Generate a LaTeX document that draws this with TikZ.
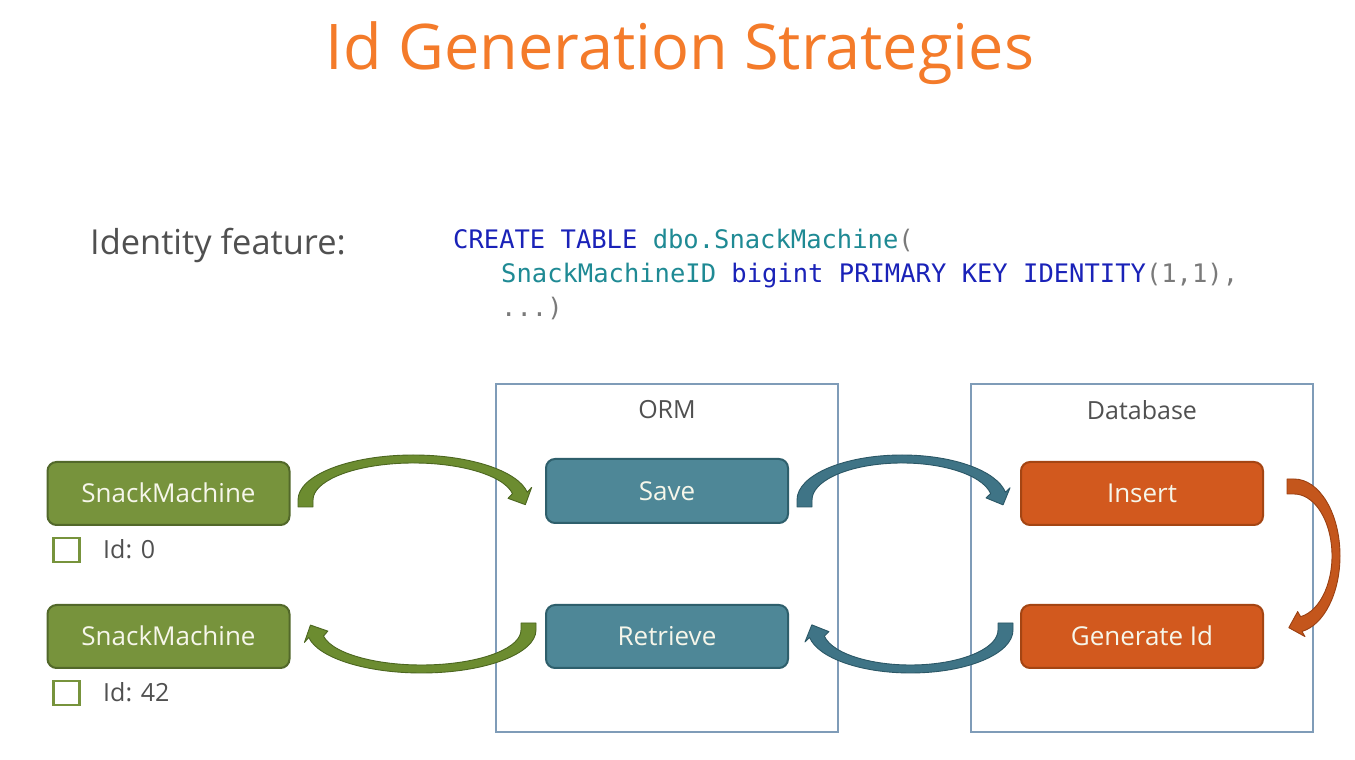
\documentclass[tikz,border=0pt]{standalone}
\usepackage{fontspec}
\setmainfont{Open Sans}
\newfontfamily\codefont{DejaVu Sans Mono}
\definecolor{titleor}{HTML}{F47B2A}
\definecolor{labelgray}{HTML}{505050}
\definecolor{frameblue}{HTML}{7F9CB8}
\definecolor{gfill}{HTML}{77933C}
\definecolor{gline}{HTML}{52682A}
\definecolor{tfill}{HTML}{4E8797}
\definecolor{tline}{HTML}{2E5F6C}
\definecolor{ofill}{HTML}{D2591E}
\definecolor{oline}{HTML}{A44513}
\definecolor{garrow}{HTML}{6C8C30}
\definecolor{garrowl}{HTML}{4C6620}
\definecolor{tarrow}{HTML}{3F7486}
\definecolor{tarrowl}{HTML}{2B5766}
\definecolor{oarrow}{HTML}{C4561C}
\definecolor{oarrowl}{HTML}{9A4012}
\definecolor{boxtext}{HTML}{F6F6EA}
\definecolor{sqlblue}{HTML}{1A22B8}
\definecolor{sqlteal}{HTML}{1F8A94}
\definecolor{sqlgray}{HTML}{7A7A7A}
\newcommand\carrow[7]{%
\begin{scope}[shift={(#1,#2)},rotate=#5]
\pgfmathsetmacro\ao{#3+7.5}
\pgfmathsetmacro\ai{#3-7.5}
\pgfmathsetmacro\bo{#4+4}
\pgfmathsetmacro\bi{#4-4}
\pgfmathsetmacro\mx{#3*cos(10)}
\pgfmathsetmacro\my{#4*sin(10)}
\pgfmathsetmacro\tx{#3*sin(10)}
\pgfmathsetmacro\ty{-#4*cos(10)}
\pgfmathsetmacro\tn{sqrt(\tx*\tx+\ty*\ty)}
\pgfmathsetmacro\ux{\tx/\tn}
\pgfmathsetmacro\uy{\ty/\tn}
\pgfmathsetmacro\ex{\ai*cos(10)}
\pgfmathsetmacro\ey{\bi*sin(10)}
\filldraw[fill=#6, draw=#7, line width=0.9pt, line join=round]
 (-\ao,-7) -- (-\ao,0) arc[start angle=180, end angle=10, x radius=\ao pt, y radius=\bo pt]
 -- ({\mx-13*\uy},{\my+13*\ux}) -- ({\mx+13*\ux},{\my+13*\uy}) -- ({\mx+13*\uy},{\my-13*\ux})
 -- (\ex,\ey) arc[start angle=10, end angle=180, x radius=\ai pt, y radius=\bi pt]
 -- (-\ai,-7) -- cycle;
\end{scope}}
\tikzset{
 box/.style={rounded corners=9pt, minimum width=242pt, minimum height=63pt, line width=2pt,
   text=boxtext, font=\fontsize{26}{30}\selectfont, text height=18.5pt, text depth=0pt, inner sep=0pt},
 gbox/.style={box, fill=gfill, draw=gline},
 tbox/.style={box, fill=tfill, draw=tline},
 obox/.style={box, fill=ofill, draw=oline},
 frame/.style={draw=frameblue, line width=1.3pt},
 lbl/.style={text=labelgray, font=\fontsize{25}{30}\selectfont, inner sep=0pt},
 chk/.style={draw=gfill, line width=2.6pt, fill=white, minimum width=26pt, minimum height=24pt, inner sep=0pt},
 code/.style={anchor=base west, inner sep=0pt, font=\codefont\fontsize{25.5}{30}\selectfont},
}
\begin{document}
\begin{tikzpicture}[x=1pt,y=1pt]
\useasboundingbox (0,0) rectangle (1355,760);
\fill[white] (0,0) rectangle (1355,760);
% title
\node[anchor=base, text=titleor, font=\fontsize{63}{70}\selectfont, inner sep=0pt] (title) at (680,690) {Id Generation Strategies};
% identity feature
\node[anchor=base west, text=labelgray, font=\fontsize{34.4}{40}\selectfont, inner sep=0pt] (ident) at (90,505) {Identity feature:};
\node[code] (code1) at (453,511) {\color{sqlblue}CREATE TABLE \color{sqlteal}dbo.SnackMachine\color{sqlgray}(};
\node[code] (code2) at (501,477) {\color{sqlteal}SnackMachineID \color{sqlblue}bigint PRIMARY KEY IDENTITY\color{sqlgray}(1,1),};
\node[code] (code3) at (501,443) {\color{sqlgray}...)};
% frames
\draw[frame] (496,376) rectangle (838,28);
\node[frame, draw=none, minimum width=342pt, minimum height=348pt, inner sep=0pt] (orm) at (667,202) {};
\node[frame, draw=none, minimum width=342pt, minimum height=348pt, inner sep=0pt] (db) at (1142,202) {};
\draw[frame] (971,376) rectangle (1313,28);
\node[lbl] (ormlbl) at (667,350) {ORM};
\node[lbl] (dblbl) at (1142,350) {Database};
% arrows
\carrow{413.5}{260}{108}{41}{0}{garrow}{garrowl}
\carrow{902}{260}{97.5}{41}{0}{tarrow}{tarrowl}
\carrow{421.5}{130}{107}{39}{180}{garrow}{garrowl}
\carrow{910.5}{130}{95}{39}{180}{tarrow}{tarrowl}
\carrow{1294}{204.2}{69.3}{42}{-90}{oarrow}{oarrowl}
% boxes
\node[gbox] (sm1) at (168.5,266.5) {SnackMachine};
\node[gbox] (sm2) at (168.5,123.5) {SnackMachine};
\node[tbox, minimum height=64pt] (save) at (667,269) {Save};
\node[tbox] (retrieve) at (667,123.5) {Retrieve};
\node[obox] (insert) at (1142,266.5) {Insert};
\node[obox] (genid) at (1142,123.5) {Generate Id};
% checkboxes
\node[chk] (cb1) at (66.5,210) {};
\node[chk] (cb2) at (66.5,67) {};
\node[lbl, anchor=base west] (id1) at (103,201) {Id: 0};
\node[lbl, anchor=base west] (id2) at (103,58) {Id: 42};
\end{tikzpicture}
\end{document}
